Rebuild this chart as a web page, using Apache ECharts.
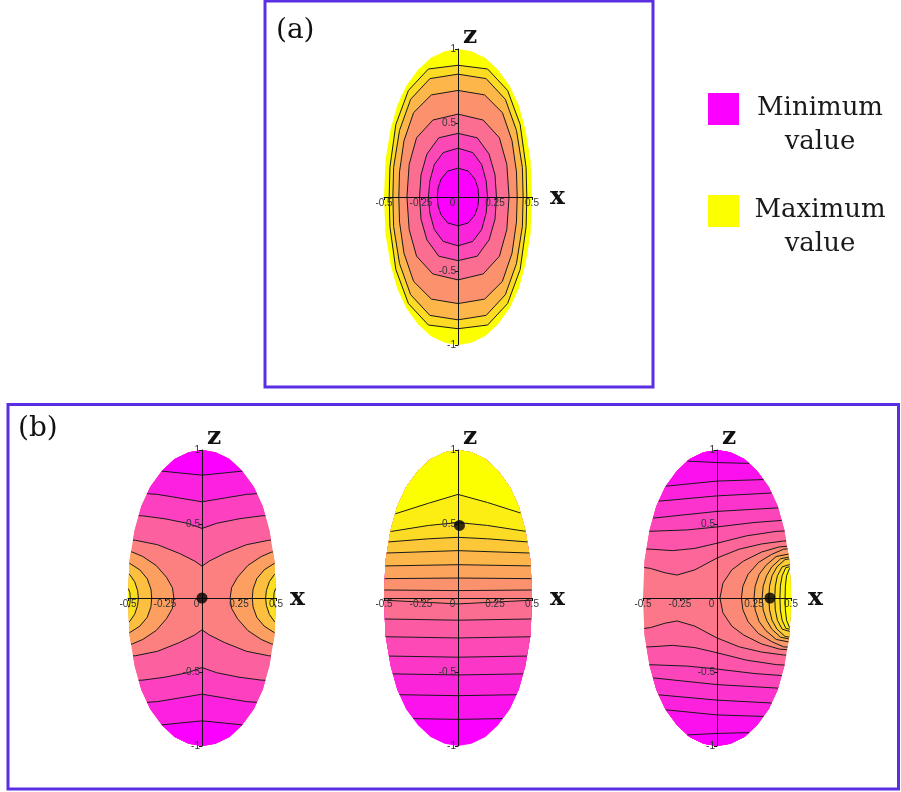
<!DOCTYPE html>
<html>
<head>
<meta charset="utf-8">
<script src="https://cdn.jsdelivr.net/npm/echarts@6/dist/echarts.min.js"></script>
<style>
  html, body { margin: 0; padding: 0; background: #fff; }
  #chart { width: 901px; height: 792px; }
</style>
</head>
<body>
<div id="chart"></div>
<script>
// ---------------------------------------------------------------------------
// Data (x, z coordinates of the contour geometry)
// ---------------------------------------------------------------------------

// Rim of the elliptical domain, right half from top to bottom; the left half mirrors it.
const outlineHalf = [[0, 1.0], [0.09, 0.985], [0.185, 0.94], [0.27, 0.86], [0.35, 0.75], [0.41, 0.62],
  [0.455, 0.46], [0.49, 0.25], [0.5, 0], [0.49, -0.25], [0.455, -0.46], [0.41, -0.62], [0.35, -0.75],
  [0.27, -0.86], [0.185, -0.94], [0.09, -0.985], [0, -1.0]];

// Panel (a): closed contours, inner to outer, one quadrant each (top point to the x axis).
const aContourQuarters = [
  [[0, 0.195], [0.07, 0.175], [0.115, 0.12], [0.135, 0.06], [0.14, 0]],
  [[0, 0.33], [0.1, 0.30], [0.16, 0.22], [0.19, 0.11], [0.2, 0]],
  [[0, 0.43], [0.13, 0.40], [0.21, 0.29], [0.25, 0.15], [0.26, 0]],
  [[0, 0.56], [0.17, 0.52], [0.28, 0.40], [0.33, 0.22], [0.345, 0]],
  [[0, 0.72], [0.18, 0.69], [0.3, 0.57], [0.365, 0.38], [0.395, 0.17], [0.40, 0]],
  [[0, 0.83], [0.19, 0.80], [0.32, 0.66], [0.395, 0.45], [0.435, 0.2], [0.44, 0]],
  [[0, 0.89], [0.2, 0.865], [0.335, 0.72], [0.42, 0.49], [0.46, 0.2], [0.465, 0]]
];

// Panel (b) left: upper contour lines, right half (x >= 0), top line first.
const b1Upper = [
  [[0, 0.83], [0.15, 0.845], [0.3, 0.86], [0.6, 0.87]],
  [[0, 0.65], [0.15, 0.675], [0.3, 0.70], [0.45, 0.71], [0.6, 0.71]],
  [[0, 0.47], [0.1, 0.505], [0.25, 0.535], [0.4, 0.555], [0.6, 0.56]],
  [[0, 0.215], [0.05, 0.25], [0.15, 0.30], [0.3, 0.36], [0.45, 0.39], [0.6, 0.40]]
];
// Panel (b) left: side arcs on the left, upper half from the rim to the x axis, outermost first.
const b1Arcs = [
  [[-0.6, 0.33], [-0.47, 0.31], [-0.40, 0.28], [-0.31, 0.22], [-0.24, 0.14], [-0.20, 0.07], [-0.19, 0]],
  [[-0.6, 0.25], [-0.49, 0.235], [-0.42, 0.19], [-0.37, 0.13], [-0.345, 0.06], [-0.34, 0]],
  [[-0.6, 0.17], [-0.49, 0.16], [-0.455, 0.11], [-0.435, 0.05], [-0.43, 0]],
  [[-0.6, 0.08], [-0.5, 0.07], [-0.487, 0.035], [-0.485, 0]]
];

// Panel (b) middle: contour lines across the domain, bottom line first.
const b2Lines = [
  [[-0.6, -0.80], [-0.3, -0.815], [0, -0.82], [0.3, -0.815], [0.6, -0.80]],
  [[-0.6, -0.65], [0, -0.66], [0.6, -0.65]],
  [[-0.6, -0.51], [0, -0.52], [0.6, -0.51]],
  [[-0.6, -0.39], [0, -0.40], [0.6, -0.39]],
  [[-0.6, -0.26], [0, -0.27], [0.6, -0.26]],
  [[-0.6, -0.14], [0, -0.15], [0.6, -0.14]],
  [[-0.6, -0.01], [-0.3, -0.025], [0, -0.04], [0.3, -0.025], [0.6, -0.01]],
  [[-0.6, 0.055], [0, 0.05], [0.6, 0.055]],
  [[-0.6, 0.13], [0, 0.135], [0.6, 0.13]],
  [[-0.6, 0.215], [0, 0.225], [0.6, 0.215]],
  [[-0.6, 0.30], [-0.3, 0.31], [0, 0.32], [0.3, 0.31], [0.6, 0.30]],
  [[-0.6, 0.375], [-0.48, 0.378], [-0.2, 0.40], [0, 0.41], [0.2, 0.40], [0.48, 0.378], [0.6, 0.375]],
  [[-0.6, 0.445], [-0.45, 0.45], [-0.2, 0.49], [0, 0.51], [0.2, 0.49], [0.46, 0.45], [0.6, 0.445]],
  [[-0.6, 0.55], [-0.42, 0.57], [-0.2, 0.64], [0, 0.70], [0.2, 0.645], [0.42, 0.575], [0.6, 0.56]]
];

// Panel (b) right: upper contour lines across the domain, top line first (lower half mirrors them).
const b3Upper = [
  [[-0.6, 0.93], [-0.2, 0.925], [0, 0.915], [0.2, 0.91], [0.6, 0.9]],
  [[-0.6, 0.75], [-0.33, 0.757], [0, 0.79], [0.31, 0.80], [0.6, 0.80]],
  [[-0.6, 0.645], [-0.385, 0.655], [0, 0.69], [0.38, 0.71], [0.6, 0.71]],
  [[-0.6, 0.53], [-0.43, 0.54], [0, 0.585], [0.43, 0.61], [0.6, 0.61]],
  [[-0.6, 0.445], [-0.475, 0.45], [-0.2, 0.46], [0, 0.48], [0.25, 0.51], [0.45, 0.525], [0.6, 0.53]],
  [[-0.6, 0.33], [-0.45, 0.33], [-0.3, 0.32], [-0.15, 0.335], [0, 0.37], [0.2, 0.42], [0.4, 0.45], [0.6, 0.46]],
  [[-0.6, 0.22], [-0.45, 0.2], [-0.35, 0.17], [-0.27, 0.155], [-0.15, 0.19], [0, 0.27], [0.15, 0.33],
   [0.3, 0.365], [0.45, 0.385], [0.6, 0.39]]
];
// Panel (b) right: arcs around the maximum on the right rim, upper half from the x axis outward.
const b3Arcs = [
  [[0.02, 0], [0.04, 0.1], [0.1, 0.19], [0.18, 0.25], [0.3, 0.31], [0.42, 0.345], [0.6, 0.36]],
  [[0.165, 0], [0.175, 0.08], [0.21, 0.16], [0.28, 0.24], [0.37, 0.295], [0.45, 0.33], [0.6, 0.34]],
  [[0.25, 0], [0.258, 0.08], [0.285, 0.16], [0.33, 0.22], [0.4, 0.28], [0.6, 0.32]],
  [[0.305, 0], [0.312, 0.08], [0.335, 0.15], [0.37, 0.21], [0.43, 0.265], [0.6, 0.30]],
  [[0.35, 0], [0.355, 0.08], [0.372, 0.15], [0.405, 0.21], [0.46, 0.26], [0.6, 0.28]],
  [[0.39, 0], [0.394, 0.08], [0.408, 0.15], [0.44, 0.21], [0.6, 0.26]],
  [[0.425, 0], [0.428, 0.08], [0.44, 0.15], [0.465, 0.205], [0.6, 0.235]],
  [[0.46, 0], [0.462, 0.08], [0.47, 0.15], [0.49, 0.2], [0.6, 0.21]]
];

// Marked points in panel (b)
const b1Point = [0, 0];
const b2Point = [0.01, 0.49];
const b3Point = [0.358, 0];

// Tick labels
const xTickLabels = [-0.5, -0.25, 0, 0.25, 0.5];
const zTickLabels = [-1, -0.5, 0.5, 1];

// ---------------------------------------------------------------------------
// Geometry helpers
// ---------------------------------------------------------------------------
const mirrorX = pts => pts.map(p => [-p[0], p[1]]);
const mirrorZ = pts => pts.map(p => [p[0], -p[1]]);

const outline = outlineHalf.concat(mirrorX(outlineHalf).reverse().slice(1, -1));

function signedArea(poly) {
  let s = 0;
  for (let i = 0; i < poly.length; i++) {
    const a = poly[i], b = poly[(i + 1) % poly.length];
    s += a[0] * b[1] - b[0] * a[1];
  }
  return s / 2;
}
const orient = Math.sign(signedArea(outline));
function side(A, B, P) {
  return orient * ((B[0] - A[0]) * (P[1] - A[1]) - (B[1] - A[1]) * (P[0] - A[0]));
}
// Sutherland-Hodgman clip of a polygon against the convex rim
function clipPolygon(subject) {
  let out = subject;
  for (let i = 0; i < outline.length && out.length; i++) {
    const A = outline[i], B = outline[(i + 1) % outline.length];
    const inp = out;
    out = [];
    for (let j = 0; j < inp.length; j++) {
      const P = inp[j], Q = inp[(j + 1) % inp.length];
      const sp = side(A, B, P), sq = side(A, B, Q);
      if (sp >= 0) out.push(P);
      if ((sp >= 0) !== (sq >= 0)) {
        const t = sp / (sp - sq);
        out.push([P[0] + t * (Q[0] - P[0]), P[1] + t * (Q[1] - P[1])]);
      }
    }
  }
  return out;
}
// Cyrus-Beck clip of one segment against the convex rim
function clipSegment(P0, P1) {
  let t0 = 0, t1 = 1;
  const dx = P1[0] - P0[0], dy = P1[1] - P0[1];
  for (let i = 0; i < outline.length; i++) {
    const A = outline[i], B = outline[(i + 1) % outline.length];
    const f0 = side(A, B, P0);
    const df = orient * ((B[0] - A[0]) * dy - (B[1] - A[1]) * dx);
    if (df === 0) { if (f0 < 0) return null; continue; }
    const t = -f0 / df;
    if (df > 0) t0 = Math.max(t0, t); else t1 = Math.min(t1, t);
    if (t0 > t1) return null;
  }
  const at = t => [P0[0] + t * dx, P0[1] + t * dy];
  return { p: at(t0), q: at(t1), t0, t1 };
}
function clipPolyline(pts) {
  const runs = [];
  let cur = null;
  for (let i = 0; i < pts.length - 1; i++) {
    const seg = clipSegment(pts[i], pts[i + 1]);
    if (!seg) { cur = null; continue; }
    if (cur && seg.t0 === 0) cur.push(seg.q);
    else { cur = [seg.p, seg.q]; runs.push(cur); }
    if (seg.t1 < 1) cur = null;
  }
  return runs;
}

// Band colour: magenta (minimum) -> salmon -> yellow (maximum)
function bandColor(level, top) {
  const t = level / top;
  return 'rgb(252,' + Math.round(255 * t) + ',' + Math.round(255 * (1 - t)) + ')';
}
const above = line => line.concat([[0.6, 1.2], [-0.6, 1.2]]);
const below = line => line.concat([[0.6, -1.2], [-0.6, -1.2]]);
const fullFromRightHalf = half => mirrorX(half).reverse().concat(half.slice(1));
const arcFromRimToAxis = up => up.concat(mirrorZ(up).reverse().slice(1));
const arcFromAxisToRim = up => mirrorZ(up).reverse().concat(up.slice(1));
function closedFromQuarter(q) {
  const right = q.concat(mirrorZ(q).reverse().slice(1));
  return right.concat(mirrorX(right).reverse().slice(1, -1));
}

// ---------------------------------------------------------------------------
// Panel layers: fills painted in order, then contour lines
// ---------------------------------------------------------------------------
// (a)
const aContours = aContourQuarters.map(closedFromQuarter);
const aTop = aContours.length;
const aFills = [{ poly: outline, color: bandColor(aTop, aTop) }];
for (let i = aContours.length - 1; i >= 0; i--) aFills.push({ poly: aContours[i], color: bandColor(i, aTop) });
const aLines = aContours.map(c => c.concat([c[0]]));

// (b) left
const b1Top = b1Upper.length + b1Arcs.length;
const b1UpperFull = b1Upper.map(fullFromRightHalf);
const b1LowerFull = b1UpperFull.map(mirrorZ);
const b1LeftArcs = b1Arcs.map(arcFromRimToAxis);
const b1RightArcs = b1LeftArcs.map(mirrorX);
const b1Fills = [{ poly: outline, color: bandColor(b1Upper.length, b1Top) }];
for (let i = b1UpperFull.length - 1; i >= 0; i--) {
  b1Fills.push({ poly: above(b1UpperFull[i]), color: bandColor(i, b1Top) });
  b1Fills.push({ poly: below(b1LowerFull[i]), color: bandColor(i, b1Top) });
}
b1LeftArcs.forEach((arc, i) => {
  const lvl = b1Upper.length + 1 + i;
  b1Fills.push({ poly: arc, color: bandColor(lvl, b1Top) });
  b1Fills.push({ poly: b1RightArcs[i], color: bandColor(lvl, b1Top) });
});
const b1Lines = b1UpperFull.concat(b1LowerFull, b1LeftArcs, b1RightArcs);

// (b) middle
const b2Top = b2Lines.length;
const b2Fills = [{ poly: outline, color: bandColor(0, b2Top) }];
b2Lines.forEach((line, i) => b2Fills.push({ poly: above(line), color: bandColor(i + 1, b2Top) }));

// (b) right
const b3Top = b3Upper.length + b3Arcs.length;
const b3Lower = b3Upper.map(mirrorZ);
const b3ArcsFull = b3Arcs.map(arcFromAxisToRim);
const b3Fills = [{ poly: outline, color: bandColor(b3Upper.length, b3Top) }];
for (let i = b3Upper.length - 1; i >= 0; i--) {
  b3Fills.push({ poly: above(b3Upper[i]), color: bandColor(i, b3Top) });
  b3Fills.push({ poly: below(b3Lower[i]), color: bandColor(i, b3Top) });
}
b3ArcsFull.forEach((arc, i) => b3Fills.push({ poly: arc, color: bandColor(b3Upper.length + 1 + i, b3Top) }));
const b3LinesAll = b3Upper.concat(b3Lower, b3ArcsFull);

// ---------------------------------------------------------------------------
// Chart
// ---------------------------------------------------------------------------
const PLOT_W = 148, PLOT_H = 296;
const panels = [
  { left: 384, top: 49, xNameGap: 18, fills: aFills, lines: aLines, point: null },
  { left: 128, top: 450, xNameGap: 14, fills: b1Fills, lines: b1Lines, point: b1Point },
  { left: 384, top: 450, xNameGap: 18, fills: b2Fills, lines: b2Lines, point: b2Point },
  { left: 643, top: 450, xNameGap: 17, fills: b3Fills, lines: b3LinesAll, point: b3Point }
];

const labelFont = 'Liberation Sans';
const serif = 'DejaVu Serif';
const ink = '#111';

const series = [];
panels.forEach((p, gi) => {
  series.push({
    type: 'custom',
    coordinateSystem: 'cartesian2d',
    xAxisIndex: gi,
    yAxisIndex: gi,
    silent: true,
    z: 2,
    data: [[0, 0]],
    renderItem: function (params, api) {
      const toPx = pt => api.coord(pt);
      const children = [];
      p.fills.forEach(f => {
        const c = clipPolygon(f.poly);
        if (c.length > 2) children.push({ type: 'polygon', shape: { points: c.map(toPx) }, style: { fill: f.color } });
      });
      p.lines.forEach(line => {
        clipPolyline(line).forEach(run => children.push({
          type: 'polyline', shape: { points: run.map(toPx) },
          style: { stroke: '#1a1a1a', lineWidth: 1, fill: 'none' }
        }));
      });
      return { type: 'group', children: children };
    }
  });
  if (p.point) {
    series.push({
      type: 'scatter', xAxisIndex: gi, yAxisIndex: gi, z: 6, silent: true,
      symbol: 'circle', symbolSize: 11, itemStyle: { color: '#000' }, data: [p.point]
    });
  }
});

const option = {
  animation: false,
  backgroundColor: '#fff',
  grid: panels.map(p => ({ left: p.left, top: p.top, width: PLOT_W, height: PLOT_H })),
  // axes pass through the origin of each panel
  xAxis: panels.map((p, gi) => ({
    gridIndex: gi, type: 'value', min: -0.5, max: 0.5, interval: 0.25, z: 4,
    position: 'bottom', offset: -PLOT_H / 2,
    axisLine: { onZero: false, lineStyle: { color: ink, width: 1 } },
    axisTick: { show: true, length: 3, lineStyle: { color: ink } },
    splitLine: { show: false },
    axisLabel: {
      margin: 1, fontSize: 10, color: '#333', fontFamily: labelFont,
      formatter: v => xTickLabels.includes(v) ? (v === 0 ? '{o|0}' : String(v)) : '',
      rich: { o: { fontSize: 10, color: '#333', fontFamily: labelFont, padding: [0, 11, 0, 0] } }
    },
    name: 'x', nameLocation: 'end', nameGap: p.xNameGap,
    nameTextStyle: { fontSize: 25, fontFamily: serif, fontWeight: 'bold', color: ink, verticalAlign: 'middle' }
  })),
  yAxis: panels.map((p, gi) => ({
    gridIndex: gi, type: 'value', min: -1, max: 1, interval: 0.5, z: 4,
    position: 'left', offset: -PLOT_W / 2,
    axisLine: { onZero: false, lineStyle: { color: ink, width: 1 } },
    axisTick: { show: true, length: 3, lineStyle: { color: ink } },
    splitLine: { show: false },
    axisLabel: {
      margin: 2, fontSize: 10, color: '#333', fontFamily: labelFont,
      formatter: v => zTickLabels.includes(v) ? String(v) : ''
    },
    name: 'z', nameLocation: 'end', nameGap: 0,
    nameTextStyle: { fontSize: 25, fontFamily: serif, fontWeight: 'bold', color: ink, padding: [0, 0, 0, 24] }
  })),
  series: series,
  graphic: [
    { type: 'rect', z: 10, shape: { x: 265, y: 1, width: 388, height: 386 },
      style: { fill: 'none', stroke: '#5a2ee2', lineWidth: 3 } },
    { type: 'rect', z: 10, shape: { x: 8, y: 404.5, width: 890.5, height: 384.5 },
      style: { fill: 'none', stroke: '#5a2ee2', lineWidth: 3 } },
    { type: 'text', z: 10, x: 276, y: 31,
      style: { text: '(a)', font: '28px "DejaVu Serif"', fill: '#111', align: 'left', verticalAlign: 'middle' } },
    { type: 'text', z: 10, x: 18, y: 429,
      style: { text: '(b)', font: '28px "DejaVu Serif"', fill: '#111', align: 'left', verticalAlign: 'middle' } },
    { type: 'rect', z: 10, shape: { x: 708, y: 93, width: 31, height: 32 }, style: { fill: bandColor(0, 1) } },
    { type: 'rect', z: 10, shape: { x: 708, y: 195, width: 31, height: 32 }, style: { fill: bandColor(1, 1) } },
    { type: 'text', z: 10, x: 820, y: 91,
      style: { text: 'Minimum\nvalue', font: '26px "DejaVu Serif"', lineHeight: 34, fill: '#1a1a1a', align: 'center', verticalAlign: 'top' } },
    { type: 'text', z: 10, x: 820, y: 193,
      style: { text: 'Maximum\nvalue', font: '26px "DejaVu Serif"', lineHeight: 34, fill: '#1a1a1a', align: 'center', verticalAlign: 'top' } }
  ]
};

const chart = echarts.init(document.getElementById('chart'), null, { renderer: 'canvas' });
chart.setOption(option);
</script>
</body>
</html>
